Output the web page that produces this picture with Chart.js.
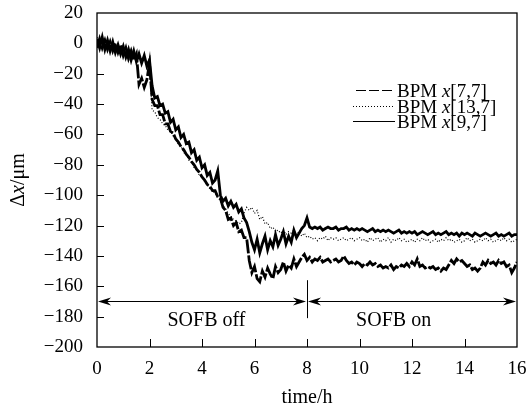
<!DOCTYPE html>
<html>
<head>
<meta charset="utf-8">
<script src="https://cdn.jsdelivr.net/npm/chart.js@4"></script>
<style>
  html, body { margin: 0; padding: 0; background: #fff; }
</style>
</head>
<body>
<canvas id="bpmChart" width="526" height="409"></canvas>
<script>
// time axis (h), one reading every 0.1 h
const time = [
  0,0.1,0.2,0.3,0.4,0.5,0.6,0.7,0.8,0.9,
  1,1.1,1.2,1.3,1.4,1.5,1.6,1.7,1.8,1.9,
  2,2.1,2.2,2.3,2.4,2.5,2.6,2.7,2.8,2.9,
  3,3.1,3.2,3.3,3.4,3.5,3.6,3.7,3.8,3.9,
  4,4.1,4.2,4.3,4.4,4.5,4.6,4.7,4.8,4.9,
  5,5.1,5.2,5.3,5.4,5.5,5.6,5.7,5.8,5.9,
  6,6.1,6.2,6.3,6.4,6.5,6.6,6.7,6.8,6.9,
  7,7.1,7.2,7.3,7.4,7.5,7.6,7.7,7.8,7.9,
  8,8.1,8.2,8.3,8.4,8.5,8.6,8.7,8.8,8.9,
  9,9.1,9.2,9.3,9.4,9.5,9.6,9.7,9.8,9.9,
  10,10.1,10.2,10.3,10.4,10.5,10.6,10.7,10.8,10.9,
  11,11.1,11.2,11.3,11.4,11.5,11.6,11.7,11.8,11.9,
  12,12.1,12.2,12.3,12.4,12.5,12.6,12.7,12.8,12.9,
  13,13.1,13.2,13.3,13.4,13.5,13.6,13.7,13.8,13.9,
  14,14.1,14.2,14.3,14.4,14.5,14.6,14.7,14.8,14.9,
  15,15.1,15.2,15.3,15.4,15.5,15.6,15.7,15.8,15.9,
  16
];

// BPM x[7,7] (dashed)
const bpm77 = [
  -3,3,-3,2,-4,1,-5,0,-6,-1,
  -8,-3,-10,-5,-11,-7,-27,-23,-29,-24,
  -13,-37,-41,-41,-47,-47,-53,-53,-58,-59,
  -63,-65,-68,-70,-73,-75,-78,-80,-83,-85,
  -88,-90,-93,-94,-97,-97,-101,-102,-108,-110,
  -116,-115,-120,-118,-124,-123,-128,-128,-143,-151,
  -147,-155,-157,-150,-154,-148,-152,-155,-147,-151,
  -149,-144,-150,-146,-148,-142,-147,-144,-141,-139,
  -143,-141,-144,-142,-143,-141,-144,-143,-142,-144,
  -143,-142,-144,-143,-140,-143,-145,-144,-146,-144,
  -145,-147,-145,-146,-144,-146,-145,-147,-146,-148,
  -147,-148,-146,-149,-147,-148,-146,-147,-145,-147,
  -144,-146,-142,-147,-146,-148,-147,-148,-147,-149,
  -148,-150,-148,-149,-146,-143,-145,-142,-144,-143,
  -145,-147,-146,-149,-148,-150,-148,-144,-146,-143,
  -145,-144,-146,-143,-145,-144,-147,-146,-151,-148,
  -144
];

// BPM x[13,7] (dotted)
const bpm137 = [
  4,-1,3,-3,2,-3,-4,0,-5,-7,
  -4,-9,-5,-10,-7,-12,-8,-13,-10,-14,
  -17,-44,-45,-49,-50,-53,-54,-57,-58,-61,
  -63,-67,-68,-72,-73,-77,-78,-82,-83,-87,
  -88,-91,-93,-96,-97,-99,-101,-104,-107,-109,
  -112,-114,-116,-117,-119,-118,-112,-108,-110,-108,
  -112,-110,-116,-114,-119,-118,-122,-121,-124,-123,
  -125,-123,-126,-124,-125,-123,-126,-124,-127,-125,
  -128,-127,-129,-128,-130,-128,-129,-127,-130,-128,
  -129,-128,-130,-129,-128,-130,-129,-128,-130,-129,
  -128,-130,-129,-131,-128,-130,-129,-128,-131,-129,
  -130,-128,-131,-129,-130,-128,-130,-129,-131,-130,
  -129,-131,-129,-130,-128,-130,-129,-131,-130,-129,
  -131,-129,-130,-128,-130,-129,-131,-130,-129,-131,
  -130,-128,-130,-129,-131,-130,-129,-130,-128,-130,
  -129,-131,-130,-129,-130,-128,-130,-129,-131,-130,
  -129
];

// BPM x[9,7] (solid)
const bpm97 = [
  3,-3,4,-4,2,-5,1,-6,-1,-7,
  -2,-9,-4,-11,-5,-12,-7,-13,-8,-15,
  -11,-28,-36,-35,-41,-40,-46,-45,-52,-50,
  -57,-55,-62,-60,-66,-65,-72,-70,-77,-75,
  -82,-80,-87,-85,-92,-90,-84,-100,-104,-102,
  -107,-104,-108,-106,-111,-109,-115,-118,-124,-131,
  -136,-129,-138,-132,-127,-136,-130,-134,-126,-133,
  -129,-124,-132,-127,-131,-123,-128,-125,-122,-120,
  -115,-121,-122,-121,-122,-121,-123,-122,-121,-122,
  -122,-121,-123,-122,-122,-121,-123,-122,-123,-122,
  -123,-122,-123,-124,-123,-122,-124,-123,-124,-123,
  -124,-123,-124,-125,-124,-123,-125,-124,-125,-124,
  -125,-124,-126,-125,-124,-125,-126,-125,-124,-126,
  -125,-126,-125,-124,-126,-125,-126,-125,-127,-125,
  -126,-125,-126,-127,-125,-126,-127,-126,-125,-126,
  -127,-126,-125,-127,-126,-127,-126,-125,-127,-126,
  -126
];

const bpmNames = ['[7,7]', '[13,7]', '[9,7]'];
const xTickValues = [0, 2, 4, 6, 8, 10, 12, 14, 16];
const yTickValues = [20, 0, -20, -40, -60, -80, -100, -120, -140, -160, -180, -200];

// SOFB phases: [start, end] in hours, arrow level in um
const sofbPhases = [[0, 8], [8, 16]];
const sofbLabels = ['SOFB off', 'SOFB on'];
const sofbArrowLevel = -170;

const SERIF = '"Liberation Serif", "Times New Roman", serif';

function toPoints(vals) {
  return time.map((t, i) => ({ x: t, y: vals[i] }));
}

// draw "BPM x[..]" / "Δx/μm" style text with an italic x
function drawMixed(ctx, parts, x, y, size) {
  let cx = x;
  parts.forEach(p => {
    ctx.font = (p.italic ? 'italic ' : '') + size + 'px ' + SERIF;
    ctx.fillText(p.text, cx, y);
    cx += ctx.measureText(p.text).width;
  });
  return cx;
}
function mixedWidth(ctx, parts, size) {
  let w = 0;
  parts.forEach(p => {
    ctx.font = (p.italic ? 'italic ' : '') + size + 'px ' + SERIF;
    w += ctx.measureText(p.text).width;
  });
  return w;
}

function arrowHead(ctx, x, y, dir) {
  // dir = -1 points left, 1 points right
  ctx.beginPath();
  ctx.moveTo(x, y);
  ctx.lineTo(x - dir * 13, y - 4);
  ctx.lineTo(x - dir * 9, y);
  ctx.lineTo(x - dir * 13, y + 4);
  ctx.closePath();
  ctx.fill();
}

// no extra room for overhanging tick labels
function noOverhang(s) {
  s.paddingTop = 0;
  s.paddingBottom = 0;
  s.paddingLeft = 0;
  s.paddingRight = 0;
}

const annotations = {
  id: 'annotations',
  afterDatasetsDraw(chart) {
    const { ctx, chartArea: a, scales: { x, y } } = chart;
    ctx.save();
    ctx.fillStyle = '#000';
    ctx.strokeStyle = '#000';

    // frame
    ctx.lineWidth = 1.3;
    ctx.strokeRect(a.left, a.top, a.right - a.left, a.bottom - a.top);

    // inward tick marks
    ctx.lineWidth = 1;
    ctx.beginPath();
    yTickValues.forEach(v => {
      if (v === 20 || v === -200) return;
      const py = Math.round(y.getPixelForValue(v)) + 0.5;
      ctx.moveTo(a.left, py);
      ctx.lineTo(a.left + 7, py);
    });
    xTickValues.forEach(v => {
      if (v === 0 || v === 16) return;
      const px = Math.round(x.getPixelForValue(v)) + 0.5;
      ctx.moveTo(px, a.bottom);
      ctx.lineTo(px, a.bottom - 8);
    });
    ctx.stroke();

    // SOFB arrows
    const ay = Math.round(y.getPixelForValue(sofbArrowLevel)) + 0.5;
    sofbPhases.forEach(([t0, t1], i) => {
      const x0 = x.getPixelForValue(t0);
      const x1 = x.getPixelForValue(t1);
      ctx.beginPath();
      ctx.moveTo(x0 + 4, ay);
      ctx.lineTo(x1 - 4, ay);
      ctx.stroke();
      arrowHead(ctx, x0 + 1, ay, -1);
      arrowHead(ctx, x1 - 1, ay, 1);
      ctx.font = '20px ' + SERIF;
      ctx.textAlign = 'center';
      ctx.textBaseline = 'alphabetic';
      const mid = i === 0 ? 4.17 : 11.3;
      ctx.fillText(sofbLabels[i], x.getPixelForValue(mid), y.getPixelForValue(-186));
    });
    // switch-on marker
    const sx = Math.round(x.getPixelForValue(8)) + 0.5;
    ctx.beginPath();
    ctx.moveTo(sx, y.getPixelForValue(-156));
    ctx.lineTo(sx, y.getPixelForValue(-181));
    ctx.stroke();

    // legend
    ctx.textAlign = 'left';
    ctx.textBaseline = 'alphabetic';
    const dashes = [[10, 3], [1, 2], []];
    const baseY = [97, 113, 128];
    bpmNames.forEach((n, i) => {
      ctx.save();
      ctx.lineWidth = 1;
      ctx.setLineDash(dashes[i]);
      ctx.beginPath();
      ctx.moveTo(i === 0 ? 356 : 353, baseY[i] - 6.5);
      ctx.lineTo(395, baseY[i] - 6.5);
      ctx.stroke();
      ctx.restore();
      drawMixed(ctx, [
        { text: 'BPM ' }, { text: 'x', italic: true }, { text: n }
      ], 397, baseY[i], 19);
    });

    // axis titles
    const xt = [{ text: 'time/h' }];
    const xw = mixedWidth(ctx, xt, 20);
    drawMixed(ctx, xt, (a.left + a.right) / 2 - xw / 2, 403, 20);

    const yt = [{ text: 'Δ' }, { text: 'x', italic: true }, { text: '/μm' }];
    const yw = mixedWidth(ctx, yt, 20);
    ctx.translate(24, (a.top + a.bottom) / 2);
    ctx.rotate(-Math.PI / 2);
    drawMixed(ctx, yt, -yw / 2, 0, 20);
    ctx.restore();
  }
};

const ctx = document.getElementById('bpmChart').getContext('2d');
new Chart(ctx, {
  type: 'line',
  data: {
    datasets: [
      {
        label: 'BPM x[7,7]',
        data: toPoints(bpm77),
        borderColor: '#000',
        borderWidth: 2.8,
        borderDash: [14, 2],
        pointRadius: 0,
        tension: 0
      },
      {
        label: 'BPM x[13,7]',
        data: toPoints(bpm137),
        borderColor: '#000',
        borderWidth: 1.2,
        borderDash: [1, 2],
        pointRadius: 0,
        tension: 0
      },
      {
        label: 'BPM x[9,7]',
        data: toPoints(bpm97),
        borderColor: '#000',
        borderWidth: 2.8,
        pointRadius: 0,
        tension: 0
      }
    ]
  },
  options: {
    responsive: false,
    animation: false,
    layout: { autoPadding: false, padding: { top: 13, right: 9, left: 0, bottom: 0 } },
    plugins: {
      legend: { display: false },
      tooltip: { enabled: false }
    },
    scales: {
      x: {
        type: 'linear',
        min: 0,
        max: 16,
        afterBuildTicks: s => { s.ticks = xTickValues.map(v => ({ value: v })); },
        afterFit: s => { s.height = 62; noOverhang(s); },
        grid: { display: false, drawTicks: false },
        border: { display: false },
        ticks: {
          padding: 11,
          color: '#000',
          maxRotation: 0,
          font: { family: SERIF, size: 19 }
        }
      },
      y: {
        min: -200,
        max: 20,
        afterBuildTicks: s => { s.ticks = yTickValues.map(v => ({ value: v })); },
        afterFit: s => { s.width = 97; noOverhang(s); },
        grid: { display: false, drawTicks: false },
        border: { display: false },
        ticks: {
          padding: 14,
          color: '#000',
          font: { family: SERIF, size: 19 },
          callback: v => v < 0 ? '\u2212' + Math.abs(v) : String(v)
        }
      }
    }
  },
  plugins: [annotations]
});
</script>
</body>
</html>
